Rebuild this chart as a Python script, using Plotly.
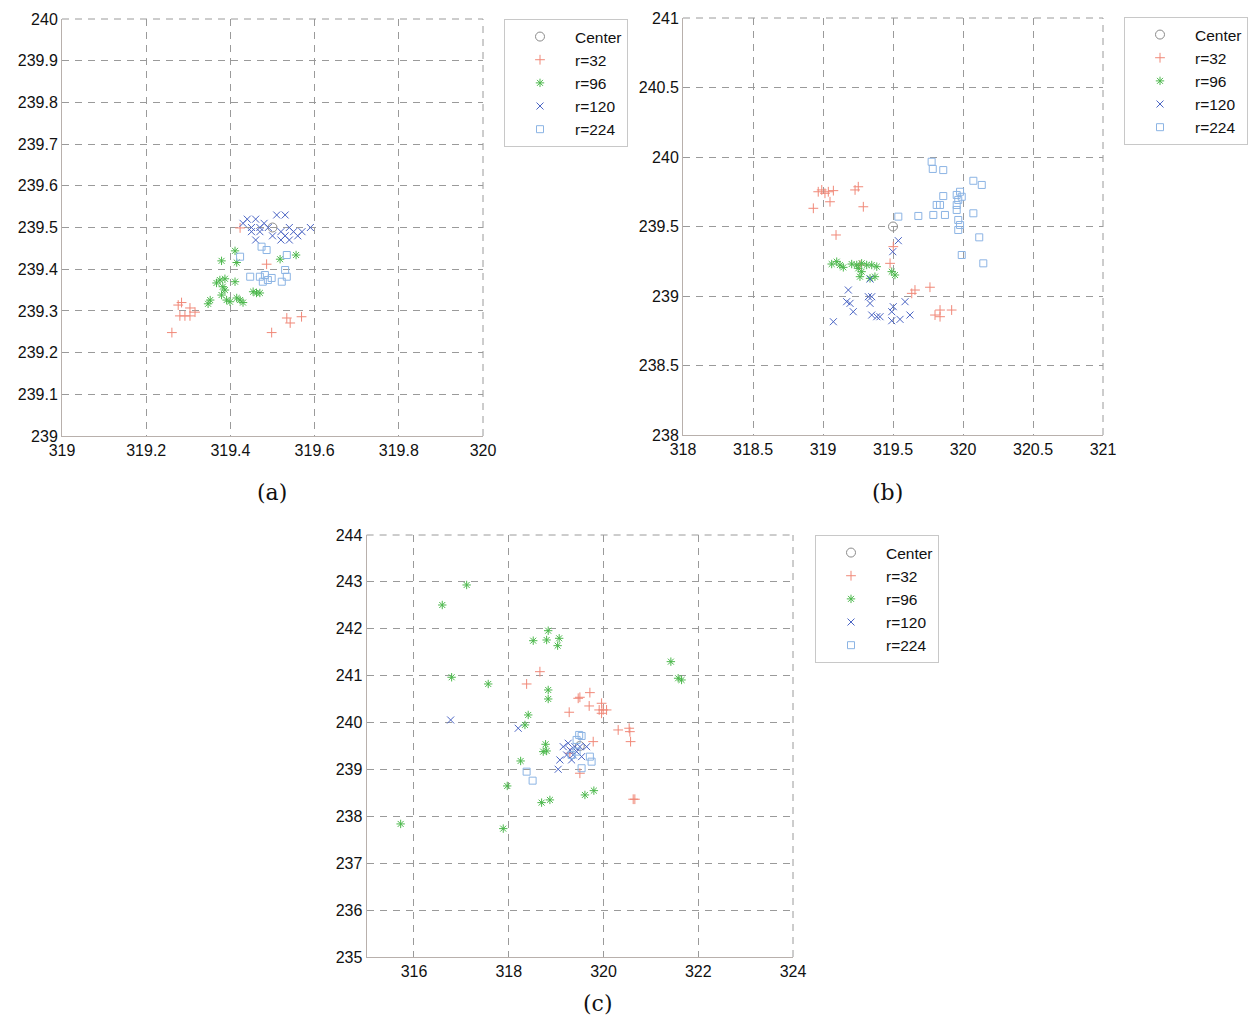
import plotly.graph_objects as go

# ---------------- data ----------------
# panel (a)
a_center_x = [319.5]
a_center_y = [239.5]
a_r32_x = [319.284, 319.304, 319.280, 319.292, 319.304, 319.261, 319.486, 319.423, 319.534, 319.542, 319.569, 319.498, 319.276, 319.316]
a_r32_y = [239.320, 239.307, 239.288, 239.288, 239.288, 239.248, 239.412, 239.499, 239.283, 239.271, 239.286, 239.248, 239.314, 239.297]
a_r96_x = [319.411, 319.379, 319.415, 319.518, 319.556, 319.375, 319.387, 319.411, 319.382, 319.387, 319.379, 319.391, 319.352, 319.347, 319.415, 319.423, 319.430, 319.454, 319.462, 319.470, 319.399, 319.367]
a_r96_y = [239.444, 239.420, 239.416, 239.424, 239.434, 239.374, 239.377, 239.370, 239.358, 239.350, 239.338, 239.326, 239.326, 239.317, 239.331, 239.326, 239.320, 239.346, 239.343, 239.343, 239.322, 239.367]
a_r120_x = [319.43, 319.44, 319.45, 319.46, 319.47, 319.46, 319.48, 319.49, 319.51, 319.53, 319.52, 319.53, 319.54, 319.55, 319.56, 319.57, 319.59, 319.50, 319.52, 319.54, 319.47, 319.45]
a_r120_y = [239.51, 239.52, 239.50, 239.52, 239.49, 239.47, 239.51, 239.50, 239.53, 239.53, 239.49, 239.48, 239.50, 239.49, 239.48, 239.49, 239.50, 239.48, 239.47, 239.47, 239.50, 239.49]
a_r224_x = [319.474, 319.486, 319.534, 319.423, 319.447, 319.470, 319.482, 319.489, 319.477, 319.530, 319.534, 319.522, 319.498]
a_r224_y = [239.454, 239.446, 239.434, 239.430, 239.382, 239.382, 239.386, 239.374, 239.370, 239.398, 239.382, 239.370, 239.379]

# panel (b)
b_center_x = [319.5]
b_center_y = [239.5]
b_r32_x = [318.966, 318.991, 319.014, 319.038, 319.074, 319.050, 318.931, 319.229, 319.252, 319.288, 319.093, 319.502, 319.479, 319.264, 319.657, 319.634, 319.764, 319.800, 319.836, 319.919, 319.836]
b_r32_y = [239.750, 239.763, 239.739, 239.750, 239.758, 239.678, 239.631, 239.763, 239.786, 239.642, 239.439, 239.355, 239.235, 239.223, 239.043, 239.019, 239.063, 238.863, 238.851, 238.899, 238.899]
b_r96_x = [319.062, 319.098, 319.121, 319.145, 319.205, 319.241, 319.276, 319.252, 319.276, 319.264, 319.312, 319.348, 319.384, 319.371, 319.336, 319.491, 319.514]
b_r96_y = [239.230, 239.247, 239.223, 239.206, 239.230, 239.223, 239.235, 239.199, 239.175, 239.139, 239.223, 239.223, 239.211, 239.139, 239.127, 239.175, 239.151]
b_r120_x = [319.538, 319.498, 319.181, 319.324, 319.348, 319.169, 319.193, 319.336, 319.216, 319.336, 319.348, 319.384, 319.407, 319.502, 319.491, 319.586, 319.621, 319.550, 319.491, 319.074]
b_r120_y = [239.398, 239.319, 239.043, 238.995, 238.995, 238.959, 238.947, 238.947, 238.887, 239.122, 238.863, 238.851, 238.851, 238.923, 238.887, 238.959, 238.863, 238.832, 238.822, 238.815]
b_r224_x = [319.776, 319.784, 319.859, 320.074, 320.134, 319.859, 319.955, 319.979, 319.991, 319.966, 319.812, 319.836, 319.955, 319.955, 320.074, 319.538, 319.681, 319.788, 319.871, 319.966, 319.979, 319.966, 320.116, 319.991, 320.145]
b_r224_y = [239.966, 239.914, 239.906, 239.829, 239.799, 239.719, 239.727, 239.750, 239.714, 239.691, 239.655, 239.655, 239.655, 239.619, 239.595, 239.571, 239.576, 239.583, 239.583, 239.547, 239.511, 239.475, 239.422, 239.295, 239.235]

# panel (c)
c_center_x = [319.5]
c_center_y = [239.5]
c_r32_x = [318.658, 318.378, 319.502, 319.466, 319.713, 319.698, 319.276, 319.960, 319.909, 319.994, 320.065, 319.960, 320.310, 320.542, 320.557, 320.572, 319.783, 319.502, 320.662, 320.627, 319.291]
c_r32_y = [241.085, 240.823, 240.539, 240.518, 240.638, 240.354, 240.220, 240.411, 240.269, 240.269, 240.269, 240.198, 239.842, 239.879, 239.806, 239.593, 239.593, 238.919, 238.365, 238.365, 239.345]
c_r96_x = [317.112, 316.597, 318.833, 318.517, 318.800, 319.065, 319.032, 321.422, 316.795, 317.567, 321.576, 321.648, 318.833, 318.833, 318.411, 318.342, 318.778, 318.800, 318.728, 318.251, 317.968, 319.608, 319.797, 318.694, 318.869, 315.719, 317.884]
c_r96_y = [242.934, 242.507, 241.959, 241.746, 241.761, 241.797, 241.640, 241.299, 240.966, 240.823, 240.945, 240.908, 240.695, 240.503, 240.162, 239.949, 239.537, 239.394, 239.380, 239.181, 238.648, 238.456, 238.548, 238.292, 238.350, 237.838, 237.738]
c_r120_x = [316.774, 318.200, 319.080, 319.044, 319.150, 319.255, 319.291, 319.361, 319.432, 319.502, 319.644, 319.327, 319.222, 319.538, 319.397]
c_r120_y = [240.055, 239.878, 239.203, 239.004, 239.486, 239.559, 239.416, 239.309, 239.380, 239.486, 239.486, 239.203, 239.309, 239.273, 239.486]
c_r224_x = [319.487, 319.538, 319.432, 319.713, 319.749, 319.538, 318.378, 318.504, 319.432, 319.327]
c_r224_y = [239.736, 239.714, 239.629, 239.273, 239.166, 239.026, 238.953, 238.761, 239.380, 239.309]

series_names = ["Center", "r=32", "r=96", "r=120", "r=224"]

a_xticks = [319, 319.2, 319.4, 319.6, 319.8, 320]
a_yticks = [239, 239.1, 239.2, 239.3, 239.4, 239.5, 239.6, 239.7, 239.8, 239.9, 240]
b_xticks = [318, 318.5, 319, 319.5, 320, 320.5, 321]
b_yticks = [238, 238.5, 239, 239.5, 240, 240.5, 241]
c_xticks = [316, 318, 320, 322, 324]
c_yticks = [235, 236, 237, 238, 239, 240, 241, 242, 243, 244]

captions = ["(a)", "(b)", "(c)"]

# ---------------- styling ----------------
W, H = 1254, 1018
GRID = "#9a9a9a"
DASH = "7px,6px"
styles = [
    dict(symbol="circle-open", color="#8a8a8a", size=9),
    dict(symbol="cross-thin-open", color="#f08878", size=7),
    dict(symbol="asterisk-open", color="#4cb84c", size=7),
    dict(symbol="x-thin-open", color="#4a64c4", size=7),
    dict(symbol="square-open", color="#8cb4e4", size=7),
]

panels = [
    dict(data=[(a_center_x, a_center_y), (a_r32_x, a_r32_y), (a_r96_x, a_r96_y), (a_r120_x, a_r120_y), (a_r224_x, a_r224_y)],
         px=(62, 483), py=(19, 436), xr=(319, 320), yr=(239, 240), xt=a_xticks, yt=a_yticks,
         leg=(504, 19), cap=(272, 493)),
    dict(data=[(b_center_x, b_center_y), (b_r32_x, b_r32_y), (b_r96_x, b_r96_y), (b_r120_x, b_r120_y), (b_r224_x, b_r224_y)],
         px=(683, 1103), py=(18, 435), xr=(318, 321), yr=(238, 241), xt=b_xticks, yt=b_yticks,
         leg=(1124, 17), cap=(887, 493)),
    dict(data=[(c_center_x, c_center_y), (c_r32_x, c_r32_y), (c_r96_x, c_r96_y), (c_r120_x, c_r120_y), (c_r224_x, c_r224_y)],
         px=(366.6, 793), py=(535, 957), xr=(315, 324), yr=(235, 244), xt=c_xticks, yt=c_yticks,
         leg=(815, 535), cap=(598, 1003)),
]

fig = go.Figure()
layout = dict(
    width=W, height=H, margin=dict(l=0, r=0, t=0, b=0, pad=0, autoexpand=False),
    paper_bgcolor="white", plot_bgcolor="white",
    font=dict(family="Liberation Sans, Arial, sans-serif", size=16, color="#111111"),
    annotations=[], shapes=[],
)

for i, p in enumerate(panels):
    suf = "" if i == 0 else str(i + 1)
    xa, ya = "x" + suf, "y" + suf
    legname = "legend" + suf
    for j, (xs, ys) in enumerate(p["data"]):
        st = styles[j]
        fig.add_trace(go.Scatter(
            x=xs, y=ys, mode="markers", name=series_names[j],
            xaxis=xa, yaxis=ya, legend=legname,
            marker=dict(symbol=st["symbol"], size=st["size"], color=st["color"],
                        line=dict(color=st["color"], width=1)),
        ))
    axis_common = dict(
        showgrid=True, gridcolor=GRID, griddash=DASH, gridwidth=1,
        showline=True, linecolor="#b8b0ac", linewidth=1, mirror=False,
        zeroline=False, ticks="", automargin=False,
        tickfont=dict(size=16, color="#111111"),
    )
    layout["xaxis" + suf] = dict(
        axis_common, domain=[p["px"][0] / W, p["px"][1] / W], range=list(p["xr"]),
        tickvals=p["xt"], ticktext=[f"{v:g}" for v in p["xt"]], anchor=ya,
    )
    layout["yaxis" + suf] = dict(
        axis_common, domain=[1 - p["py"][1] / H, 1 - p["py"][0] / H], range=list(p["yr"]),
        tickvals=p["yt"], ticktext=[f"{v:g}" for v in p["yt"]], anchor=xa,
    )
    layout[legname] = dict(
        x=p["leg"][0] / W, y=1 - p["leg"][1] / H, xanchor="left", yanchor="top",
        bgcolor="white", bordercolor="#c8c8c8", borderwidth=1,
        font=dict(size=15.5, color="#111111"), itemwidth=60, tracegroupgap=0,
    )
    layout["annotations"].append(dict(
        text=captions[i], x=p["cap"][0] / W, y=1 - p["cap"][1] / H,
        xref="paper", yref="paper", showarrow=False, xanchor="center", yanchor="middle",
        font=dict(family="DejaVu Serif, serif", size=22, color="#111111"),
    ))
    # dashed frame on the top and right edges (grid lines at range ends)
    xd, yd = xa + " domain", ya + " domain"
    layout["shapes"].append(dict(type="line", xref=xd, yref=yd, x0=0, x1=1, y0=1, y1=1,
                                 line=dict(color=GRID, width=1, dash=DASH), layer="below"))
    layout["shapes"].append(dict(type="line", xref=xd, yref=yd, x0=1, x1=1, y0=0, y1=1,
                                 line=dict(color=GRID, width=1, dash=DASH), layer="below"))

fig.update_layout(**layout)
fig.write_html("out.html", config={"displayModeBar": False},
               post_script="document.body.style.margin='0';document.body.style.overflow='hidden';")
